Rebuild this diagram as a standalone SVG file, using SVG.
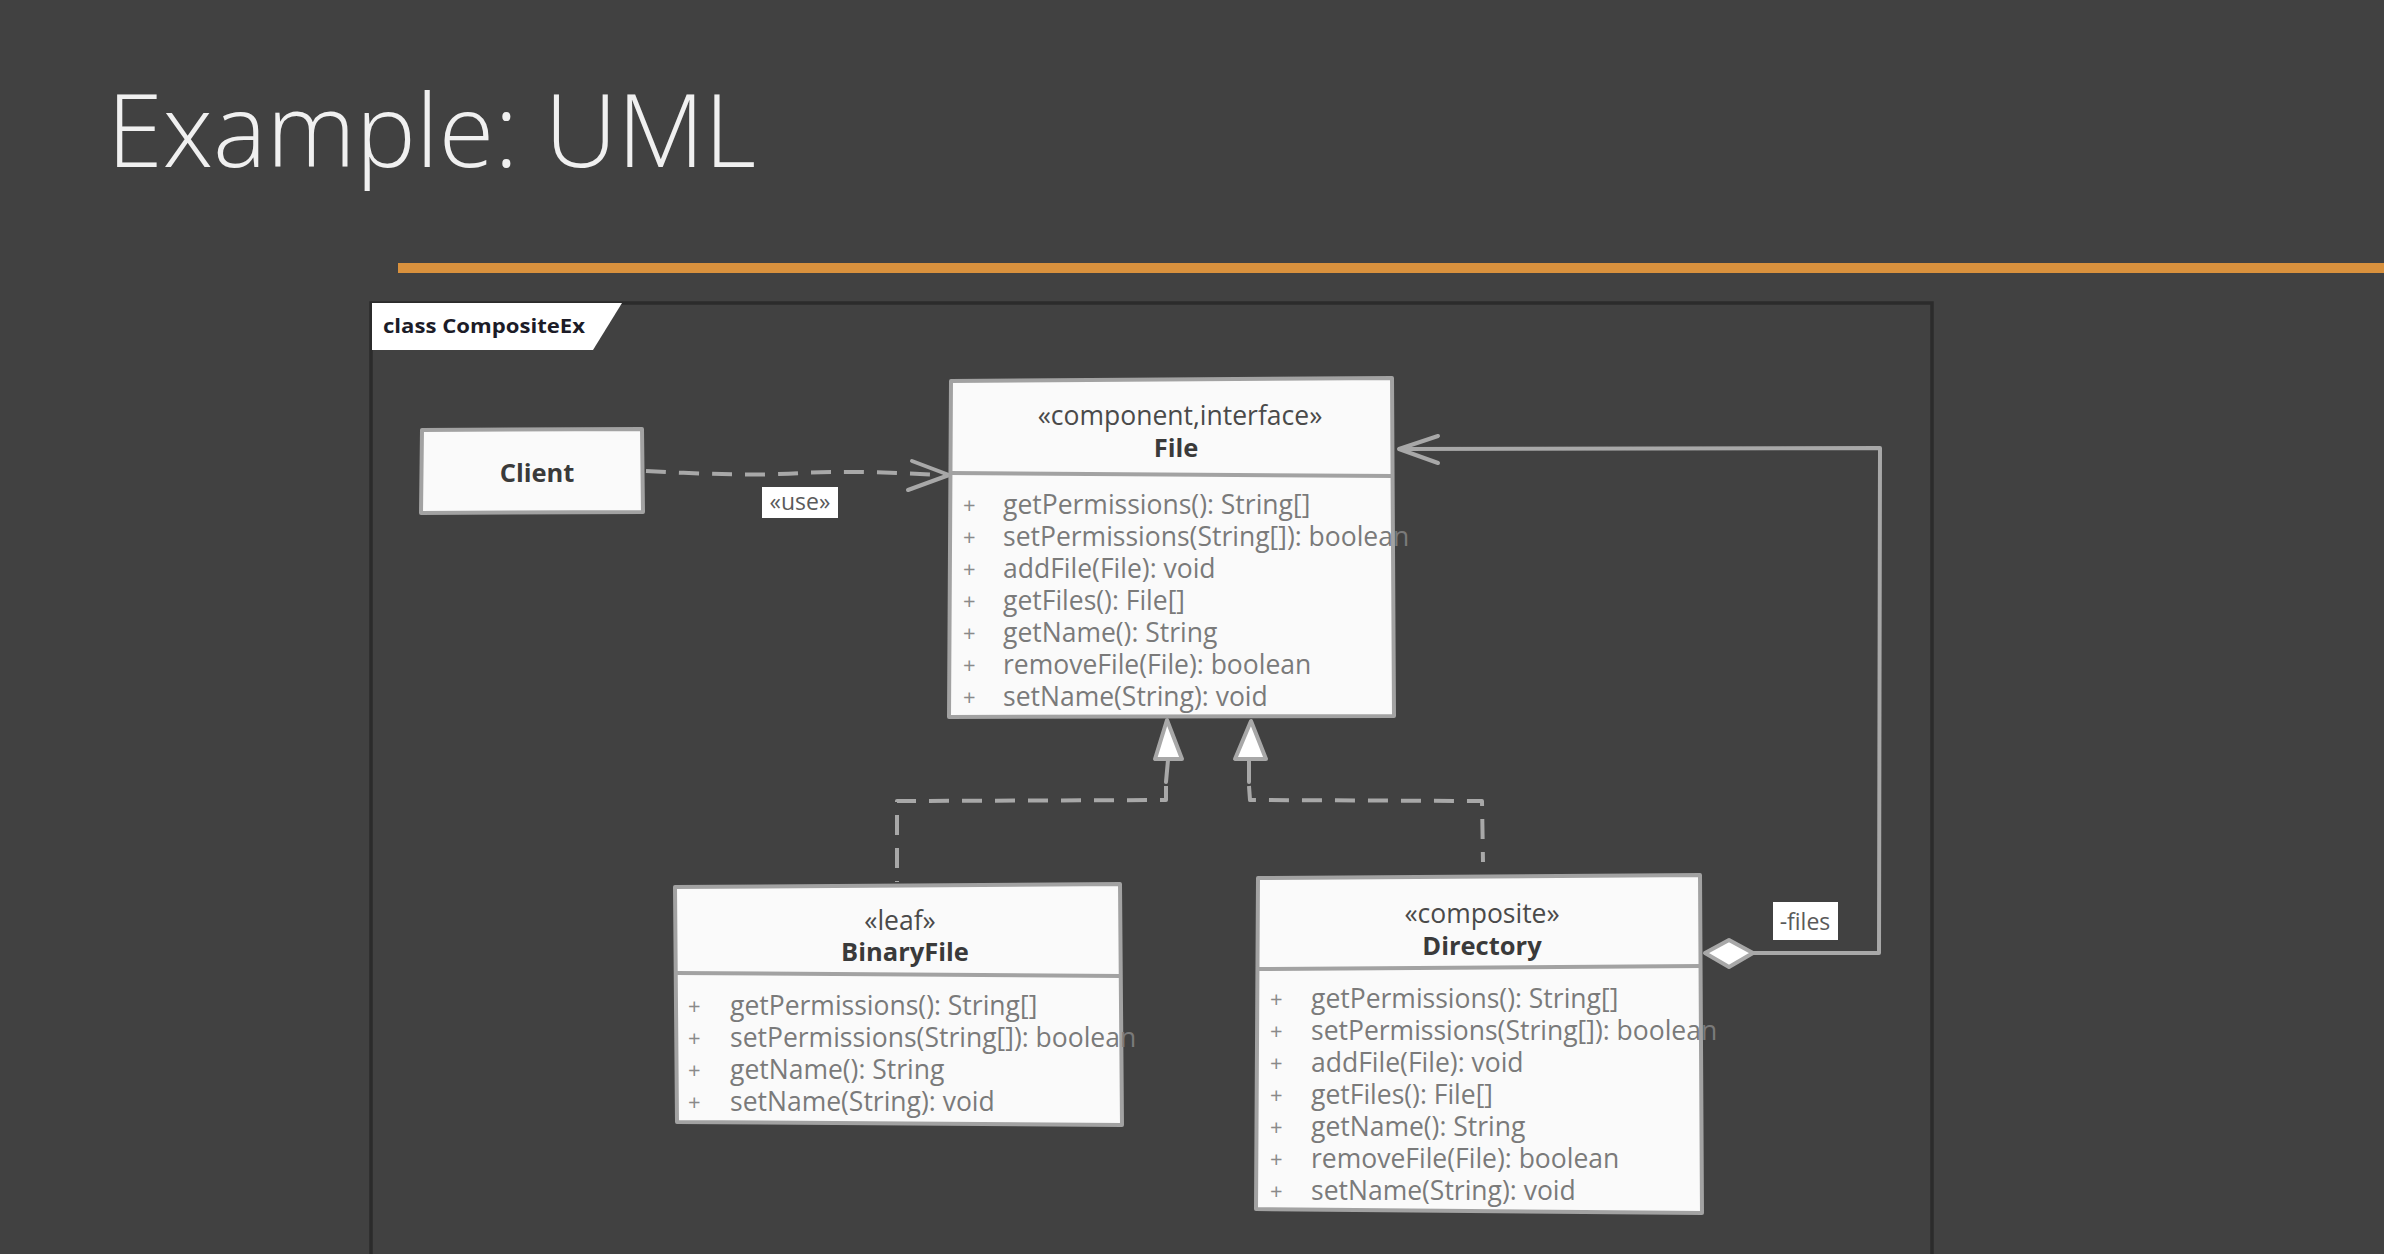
<svg xmlns="http://www.w3.org/2000/svg" width="2384" height="1254" viewBox="0 0 2384 1254">
  <defs>
    <style>
      .title { font-family: "Open Sans", "Liberation Sans", sans-serif; font-weight: 300; font-size: 101px; fill: #f0f0f0; }
      .tab { font-family: "Open Sans", "Liberation Sans", sans-serif; font-weight: 700; font-size: 20px; fill: #1c1c28; }
      .box { fill: #fafafa; stroke: #a2a2a2; stroke-width: 4; stroke-linejoin: round; }
      .sep { fill: none; stroke: #a2a2a2; stroke-width: 4; }
      .stereo { font-family: "Open Sans", "Liberation Sans", sans-serif; font-size: 26.5px; fill: #4a4a4a; text-anchor: middle; }
      .name { font-family: "Open Sans", "Liberation Sans", sans-serif; font-weight: 700; font-size: 25.5px; fill: #3a3a3a; text-anchor: middle; }
      .op { font-family: "Open Sans", "Liberation Sans", sans-serif; font-size: 26.5px; fill: #7a7a7a; }
      .plus { font-family: "Open Sans", "Liberation Sans", sans-serif; font-size: 22px; fill: #8a8a8a; }
      .conn { fill: none; stroke: #a8a8a8; stroke-width: 4; stroke-linecap: round; stroke-linejoin: round; }
      .dash { stroke-dasharray: 20 13; stroke-linecap: butt; }
      .lbl-bg { fill: #ffffff; }
      .lbl { font-family: "Open Sans", "Liberation Sans", sans-serif; font-size: 23px; fill: #5a5a5a; text-anchor: middle; }
    </style>
  </defs>

  <!-- slide background -->
  <rect x="0" y="0" width="2384" height="1254" fill="#414141"/>

  <!-- heading and accent rule -->
  <text class="title" x="107" y="167">Example: UML</text>
  <rect x="398" y="263" width="1986" height="10" fill="#d9913d"/>

  <!-- diagram frame with name tab -->
  <g id="frame">
    <rect x="371" y="303" width="1561" height="1000" fill="none" stroke="#2b2b2b" stroke-width="3.5"/>
    <polygon points="372,303 622,303 593,350 372,350" fill="#ffffff"/>
    <text class="tab" x="383" y="333" textLength="202" lengthAdjust="spacingAndGlyphs">class CompositeEx</text>
  </g>

  <!-- connectors -->
  <g id="connectors">
    <!-- Client uses File -->
    <path class="conn dash" d="M646,471 C700,474 760,476 800,473 C860,470 910,474 947,475"/>
    <path class="conn" d="M912,461 L949,475 L908,490"/>
    <g id="use-label">
      <rect class="lbl-bg" x="762" y="487" width="76" height="31"/>
      <text class="lbl" x="800" y="510" font-size="22">«use»</text>
    </g>

    <!-- BinaryFile realizes File -->
    <polygon points="1167,720 1155,759 1182,759" fill="#ffffff" stroke="#a8a8a8" stroke-width="4" stroke-linejoin="round"/>
    <path class="conn" d="M1168,760 L1166,782"/>
    <path class="conn dash" d="M1166,786 L1166,800 L897,801 L897,882"/>

    <!-- Directory realizes File -->
    <polygon points="1251,721 1235,759 1266,759" fill="#ffffff" stroke="#a8a8a8" stroke-width="4" stroke-linejoin="round"/>
    <path class="conn" d="M1249,760 L1249,782"/>
    <path class="conn dash" d="M1249,786 L1250,800 L1482,801 L1483,862"/>

    <!-- Directory aggregates File (-files) -->
    <path class="conn" d="M1752,953 L1879,953 L1880,448 L1400,449"/>
    <path class="conn" d="M1438,436 L1399,449 L1438,463"/>
    <polygon points="1705,953 1729,940 1753,953 1729,967" fill="#ffffff" stroke="#a8a8a8" stroke-width="4" stroke-linejoin="round"/>
    <g id="files-label">
      <rect class="lbl-bg" x="1773" y="902" width="65" height="38"/>
      <text class="lbl" x="1805" y="930">-files</text>
    </g>
  </g>

  <!-- Client -->
  <g id="client">
    <path class="box" d="M422,430 L642,429 L643,512 L421,513 Z"/>
    <text class="name" x="537" y="482">Client</text>
  </g>

  <!-- File interface -->
  <g id="file">
    <path class="box" d="M951,381 L1392,378 L1394,716 L949,717 Z"/>
    <path class="sep" d="M950,473 L1393,476"/>
    <text class="stereo" x="1180" y="425">«component,interface»</text>
    <text class="name" x="1176" y="457">File</text>
    <text class="plus" x="963" y="513">+</text>
    <text class="op" x="1003" y="514">getPermissions(): String[]</text>
    <text class="plus" x="963" y="545">+</text>
    <text class="op" x="1003" y="546">setPermissions(String[]): boolean</text>
    <text class="plus" x="963" y="577">+</text>
    <text class="op" x="1003" y="578">addFile(File): void</text>
    <text class="plus" x="963" y="609">+</text>
    <text class="op" x="1003" y="610">getFiles(): File[]</text>
    <text class="plus" x="963" y="641">+</text>
    <text class="op" x="1003" y="642">getName(): String</text>
    <text class="plus" x="963" y="673">+</text>
    <text class="op" x="1003" y="674">removeFile(File): boolean</text>
    <text class="plus" x="963" y="705">+</text>
    <text class="op" x="1003" y="706">setName(String): void</text>
  </g>

  <!-- BinaryFile leaf -->
  <g id="binaryfile">
    <path class="box" d="M675,887 L1120,884 L1122,1125 L677,1122 Z"/>
    <path class="sep" d="M676,973 L1121,976"/>
    <text class="stereo" x="900" y="930">«leaf»</text>
    <text class="name" x="905" y="961">BinaryFile</text>
    <text class="plus" x="688" y="1014">+</text>
    <text class="op" x="730" y="1015">getPermissions(): String[]</text>
    <text class="plus" x="688" y="1046">+</text>
    <text class="op" x="730" y="1047">setPermissions(String[]): boolean</text>
    <text class="plus" x="688" y="1078">+</text>
    <text class="op" x="730" y="1079">getName(): String</text>
    <text class="plus" x="688" y="1110">+</text>
    <text class="op" x="730" y="1111">setName(String): void</text>
  </g>

  <!-- Directory composite -->
  <g id="directory">
    <path class="box" d="M1258,878 L1700,875 L1702,1213 L1256,1209 Z"/>
    <path class="sep" d="M1257,969 L1701,966"/>
    <text class="stereo" x="1482" y="923">«composite»</text>
    <text class="name" x="1482" y="955">Directory</text>
    <text class="plus" x="1270" y="1007">+</text>
    <text class="op" x="1311" y="1008">getPermissions(): String[]</text>
    <text class="plus" x="1270" y="1039">+</text>
    <text class="op" x="1311" y="1040">setPermissions(String[]): boolean</text>
    <text class="plus" x="1270" y="1071">+</text>
    <text class="op" x="1311" y="1072">addFile(File): void</text>
    <text class="plus" x="1270" y="1103">+</text>
    <text class="op" x="1311" y="1104">getFiles(): File[]</text>
    <text class="plus" x="1270" y="1135">+</text>
    <text class="op" x="1311" y="1136">getName(): String</text>
    <text class="plus" x="1270" y="1167">+</text>
    <text class="op" x="1311" y="1168">removeFile(File): boolean</text>
    <text class="plus" x="1270" y="1199">+</text>
    <text class="op" x="1311" y="1200">setName(String): void</text>
  </g>
</svg>
